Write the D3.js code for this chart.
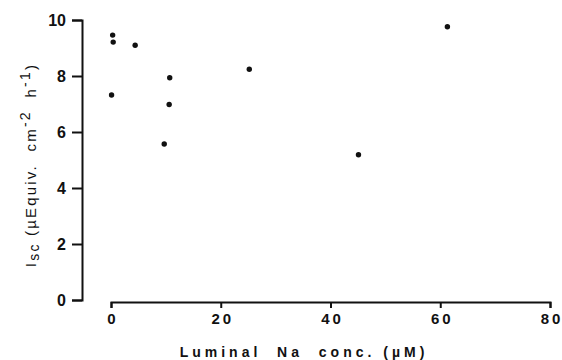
<!DOCTYPE html>
<html>
<head>
<meta charset="utf-8">
<script src="https://cdn.jsdelivr.net/npm/d3@7"></script>
<style>
  body { margin: 0; background: #fff; }
  svg { display: block; }
  text { font-family: "Liberation Sans", Arial, sans-serif; fill: #111; white-space: pre; }
</style>
</head>
<body>
<svg width="562" height="360"></svg>
<script>
// luminal Na concentration (uM) and short-circuit current
const naConc = [0.3, 0.4, 4.4, 10.7, 0.1, 10.6, 9.7, 25.2, 45.1, 61.3];
const isc    = [9.46, 9.21, 9.1, 7.94, 7.32, 6.98, 5.57, 8.24, 5.19, 9.76];
const xTicks = [0, 20, 40, 60, 80];
const yTicks = [0, 2, 4, 6, 8, 10];

let svg = d3.select("svg");

let x = d3.scaleLinear().domain([0, 80]).range([111, 550]);
let y = d3.scaleLinear().domain([0, 10]).range([300, 20]);

// y axis
let gy = svg.append("g")
  .attr("transform", "translate(82,0)")
  .call(d3.axisLeft(y).tickValues(yTicks).tickSize(10).tickPadding(6).tickFormat(d3.format("d")));
gy.selectAll("text").style("font-size", "16px").style("font-weight", "bold").attr("dy", "0.36em");

// x axis, detached below the plot
let gx = svg.append("g")
  .attr("transform", "translate(0,302)")
  .call(d3.axisBottom(x).tickValues(xTicks).tickSize(6).tickPadding(5).tickFormat(d3.format("d")));
gx.selectAll("text").style("font-size", "15px").style("font-weight", "bold").style("letter-spacing", "3px")
  .attr("dx", "1.5px");

svg.selectAll(".domain, .tick line").attr("stroke", "#111").attr("stroke-width", 2);

// points
svg.append("g").selectAll("circle")
  .data(naConc)
  .join("circle")
  .attr("cx", (d, i) => x(d))
  .attr("cy", (d, i) => y(isc[i]))
  .attr("r", 2.7)
  .attr("fill", "#111");

// x label
svg.append("text")
  .attr("x", 304).attr("y", 357)
  .attr("text-anchor", "middle")
  .style("font-size", "14px").style("font-weight", "bold").style("letter-spacing", "4px")
  .text("Luminal  Na  conc. (\u00b5M)");

// y label
let yl = svg.append("text")
  .attr("transform", "translate(36,165) rotate(-90)")
  .attr("text-anchor", "middle")
  .style("font-size", "15px").style("letter-spacing", "2.2px");
yl.append("tspan").text("I");
yl.append("tspan").attr("dy", "3").style("font-size", "14px").text("sc");
yl.append("tspan").attr("dy", "-3").text(" (\u00b5Equiv.  cm");
yl.append("tspan").attr("dy", "-6").style("font-size", "14px").text("-2");
yl.append("tspan").attr("dy", "6").text("  h");
yl.append("tspan").attr("dy", "-6").style("font-size", "14px").text("-1");
yl.append("tspan").attr("dy", "6").text(")");
</script>
</body>
</html>
